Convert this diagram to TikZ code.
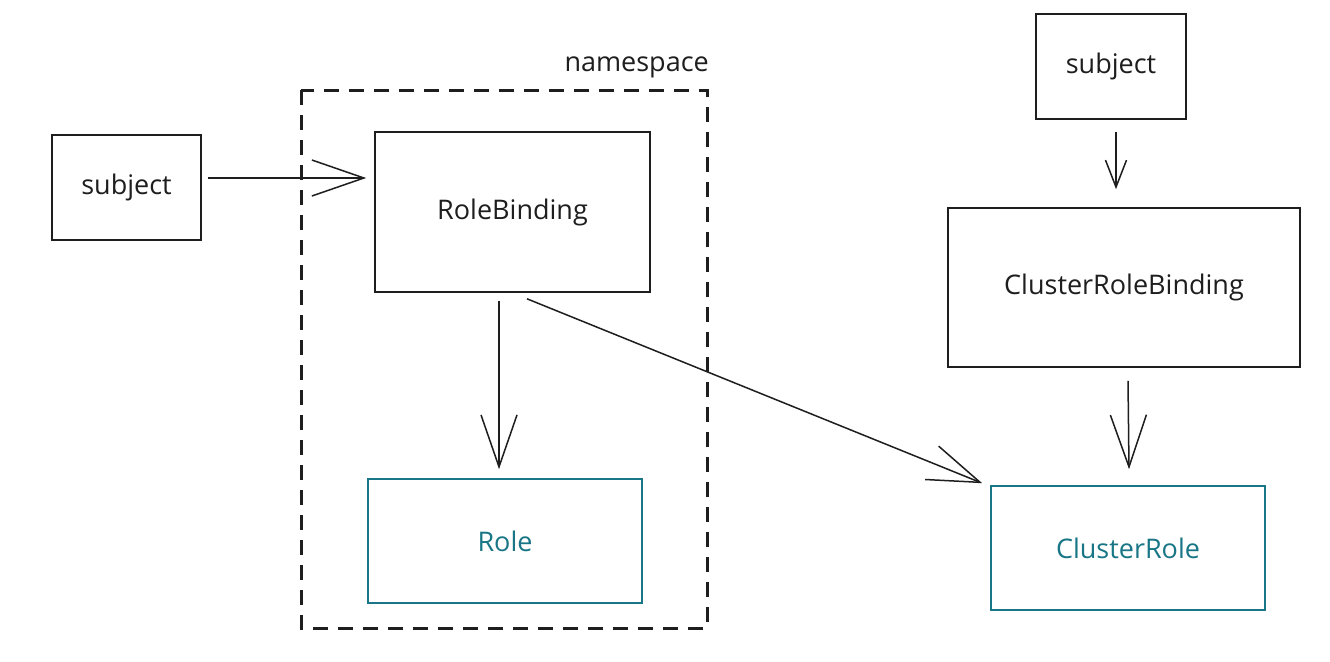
\documentclass[tikz,border=0pt]{standalone}
\usepackage{fontspec}
\setmainfont{Open Sans}
\usetikzlibrary{arrows.meta}
\definecolor{teal2}{RGB}{24,118,134}
\definecolor{ink}{RGB}{30,30,30}
\tikzset{
  box/.style={draw=ink, line width=1.6pt, inner sep=0pt, font=\fontsize{27}{30}\selectfont, text=ink},
  tealbox/.style={box, draw=teal2, text=teal2},
  conn/.style={draw=ink, line width=1.5pt, -{Straight Barb[length=52pt, width=36pt, line width=1.5pt]}},
  shortconn/.style={draw=ink, line width=1.5pt, -{Straight Barb[length=27pt, width=21pt, line width=1.5pt]}},
}
\begin{document}
\begin{tikzpicture}[x=1pt, y=-1pt]
\useasboundingbox (0,0) rectangle (1330,661);
\fill[white] (0,0) rectangle (1330,661);
% namespace
\draw[ink, line width=3pt, dash pattern=on 15pt off 10pt] (301,90) rectangle (707,628);
\node[anchor=base east, font=\fontsize{27}{30}\selectfont, text=ink, inner sep=0pt] (ns) at (709,71) {namespace};
% nodes
\node[box, minimum width=149pt, minimum height=105pt] (s1) at (126.5,187.5) {subject};
\node[box, minimum width=275pt, minimum height=160pt] (rb) at (512.5,212) {RoleBinding};
\node[tealbox, minimum width=274pt, minimum height=124pt] (role) at (505,541) {Role};
\node[box, minimum width=150pt, minimum height=105pt] (s2) at (1111,66.5) {subject};
\node[box, minimum width=352pt, minimum height=159pt] (crb) at (1124,287.5) {ClusterRoleBinding};
\node[tealbox, minimum width=274pt, minimum height=124pt] (cr) at (1128,548) {ClusterRole};
% connectors
\draw[conn] ([xshift=6pt,yshift=9.5pt]s1.east) -- ([xshift=-8pt,yshift=34pt]rb.west);
\draw[conn] ([xshift=-13.5pt,yshift=-8pt]rb.south) -- ([xshift=-6pt,yshift=9pt]role.north);
\draw[conn] ([xshift=14.5pt,yshift=-6pt]rb.south) -- ([xshift=-8pt,yshift=2pt]cr.north west);
\draw[shortconn] ([xshift=5pt,yshift=-12pt]s2.south) -- ([xshift=-8pt,yshift=18pt]crb.north);
\draw[conn] ([xshift=4pt,yshift=-13pt]crb.south) -- ([xshift=1pt,yshift=16pt]cr.north);
\end{tikzpicture}
\end{document}
